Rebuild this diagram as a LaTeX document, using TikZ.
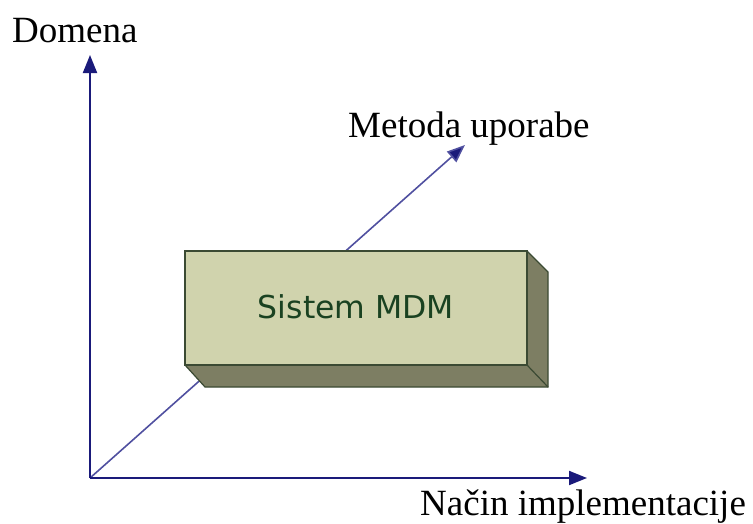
\documentclass[tikz,border=0pt]{standalone}
\usepackage{fontspec}
\setmainfont{Liberation Serif}
\newfontfamily\boxfont{DejaVu Sans}
\usetikzlibrary{arrows.meta}
\definecolor{axisblue}{HTML}{1A1A7A}
\definecolor{diagblue}{HTML}{5050A0}
\definecolor{facefront}{HTML}{D0D3AD}
\definecolor{faceside}{HTML}{7D7E63}
\definecolor{boxedge}{HTML}{3B4A33}
\definecolor{boxtext}{HTML}{1A4221}
\tikzset{
  axis/.style={draw=axisblue, line width=2pt, -{Triangle[length=18pt,width=14pt]}},
  diag/.style={draw=diagblue, line width=1.6pt, -{Triangle[length=18pt,width=14pt,fill=axisblue]}},
  lbl/.style={inner sep=0pt, anchor=base west, font=\fontsize{37}{40}\selectfont},
  face/.style={draw=boxedge, line width=1.2pt, line join=miter},
}
\begin{document}
\begin{tikzpicture}[x=1pt,y=-1pt]
\useasboundingbox (0,0) rectangle (753,523);
% axes
\coordinate (O) at (90,478);
\coordinate (yend) at (90,55);
\coordinate (xend) at (587,478);
\coordinate (zend) at (465,145);
\draw[diag] (O) -- (zend);
\draw[axis] (O) -- (yend);
\draw[axis] (O) -- (xend);
% 3D box
\coordinate (fa) at (185,251);
\coordinate (fb) at (527,251);
\coordinate (fc) at (527,365);
\coordinate (fd) at (185,365);
\coordinate (sb) at (548,272);
\coordinate (sc) at (548,387);
\coordinate (sd) at (205,387);
\fill[faceside] (fd) -- (fc) -- (sc) -- (sd) -- cycle;
\fill[faceside] (fb) -- (sb) -- (sc) -- (fc) -- cycle;
\draw[face] (fd) -- (sd) -- (sc) -- (sb) -- (fb);
\draw[face] (fc) -- (sc);
\draw[face, fill=facefront] (fa) rectangle (fc);
\node[font=\boxfont\fontsize{31.5}{36}\selectfont, text=boxtext, inner sep=0pt] (sys) at (356,307) {Sistem MDM};
% axis labels
\node[lbl] (ldom) at (12,42) {Domena};
\node[lbl] (lmet) at (348,137) {Metoda uporabe};
\node[lbl] (lnac) at (420,515) {Način implementacije};
\end{tikzpicture}
\end{document}
